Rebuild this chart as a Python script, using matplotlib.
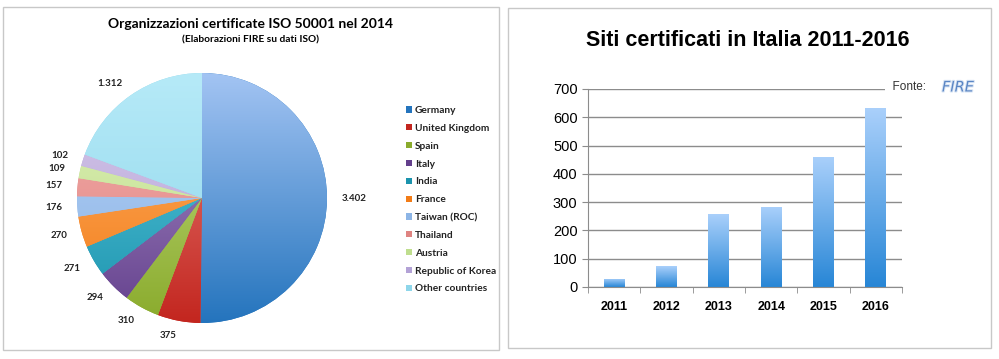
import numpy as np
import matplotlib
matplotlib.use('Agg')
import matplotlib.pyplot as plt
from matplotlib.colors import LinearSegmentedColormap
from matplotlib.patches import Rectangle
import matplotlib.patheffects as pe

# dati grafico a torta (organizzazioni ISO 50001 nel 2014)
countries = ['Germany', 'United Kingdom', 'Spain', 'Italy', 'India', 'France',
             'Taiwan (ROC)', 'Thailand', 'Austria', 'Republic of Korea', 'Other countries']
organizations = [3402, 375, 310, 294, 271, 270, 176, 157, 109, 102, 1312]
pie_top = ['#a3c4f3', '#e8827c', '#c2dc85', '#ae96cc', '#5fcbe0', '#ffb066',
           '#b3d0f5', '#f4adab', '#dcefb4', '#d6c8ea', '#b6eaf8']
pie_bottom = ['#2474bd', '#c3261f', '#8aab2c', '#633f8c', '#1b93ad', '#f27c17',
              '#8db5e6', '#df8481', '#bfde8e', '#b3a2d6', '#8ed6ea']

# dati grafico a barre (siti certificati in Italia)
years = ['2011', '2012', '2013', '2014', '2015', '2016']
sites = [30, 73, 257, 283, 460, 632]
bar_top = '#aad0fb'
bar_bottom = '#2786d6'


def gradient_fill(ax, patch, c_top, c_bottom, extent):
    # riempimento sfumato verticale ritagliato sulla forma
    cmap = LinearSegmentedColormap.from_list('g', [c_bottom, c_top])
    grad = np.linspace(0, 1, 256).reshape(-1, 1)
    im = ax.imshow(grad, cmap=cmap, origin='lower', extent=extent,
                   aspect='auto', interpolation='bilinear',
                   zorder=patch.get_zorder() + 0.1)
    im.set_clip_path(patch)


def it_number(v):
    return f'{v:,}'.replace(',', '.')


fig = plt.figure(figsize=(9.99, 3.59), dpi=100)
W, H = 999, 359

# cornici dei due pannelli
fig.patches.append(Rectangle((3 / W, 1 - 350 / H), 496 / W, 343 / H, transform=fig.transFigure,
                             fill=False, edgecolor='#c8c8c8', linewidth=1))
fig.patches.append(Rectangle((508 / W, 1 - 348 / H), 483 / W, 340 / H, transform=fig.transFigure,
                             fill=False, edgecolor='#c8c8c8', linewidth=1))

# ---- torta ----
lato = ['Lato', 'DejaVu Sans']
ax1 = fig.add_axes([77 / W, 1 - 323 / H, 250 / W, 250 / H])
wedges, texts = ax1.pie(organizations, labels=[it_number(v) for v in organizations],
                        colors=pie_bottom, startangle=90, counterclock=False,
                        labeldistance=1.12, wedgeprops=dict(linewidth=0),
                        textprops=dict(fontsize=7, fontweight='bold', family=lato, color='#222222'))
for w, ct, cb in zip(wedges, pie_top, pie_bottom):
    gradient_fill(ax1, w, ct, cb, (-1, 1, -1, 1))
ax1.set_xlim(-1, 1)
ax1.set_ylim(-1, 1)
ax1.set_aspect('equal')
ax1.axis('off')

fig.text(251 / W, 1 - 24 / H, 'Organizzazioni certificate ISO 50001 nel 2014',
         ha='center', va='center', fontsize=10, fontweight='bold', family=lato)
fig.text(251 / W, 1 - 40 / H, '(Elaborazioni FIRE su dati ISO)',
         ha='center', va='center', fontsize=7.3, fontweight='bold', family=lato)

leg = fig.legend(wedges, countries, loc='upper left', bbox_to_anchor=(402 / W, 1 - 102 / H),
                 frameon=False, fontsize=7.3, handlelength=0.55, handleheight=0.55,
                 handletextpad=0.3, labelspacing=0.87, borderaxespad=0)
for t in leg.get_texts():
    t.set_family(lato)
    t.set_fontweight('bold')
    t.set_color('#222222')

# ---- barre ----
ax2 = fig.add_axes([588 / W, 1 - 287 / H, 314 / W, 198 / H])
x = np.arange(len(years))
bars = ax2.bar(x, sites, width=0.4, color=bar_bottom, zorder=2)
for b in bars:
    gradient_fill(ax2, b, bar_top, bar_bottom,
                  (b.get_x(), b.get_x() + b.get_width(), 0, b.get_height()))
ax2.set_xlim(-0.5, len(years) - 0.5)
ax2.set_ylim(0, 700)
ax2.set_yticks(range(0, 701, 100))
ax2.yaxis.grid(True, color='#8c8c8c', linewidth=1)
ax2.set_axisbelow(True)
ax2.set_xticks(x)
ax2.set_xticklabels(years, fontsize=9, fontweight='bold', family='Liberation Sans')
ax2.set_xticks(np.arange(-0.5, len(years)), minor=True)
ax2.tick_params(axis='x', which='major', length=0, pad=10)
ax2.tick_params(axis='x', which='minor', length=4, color='#8c8c8c', direction='out')
ax2.tick_params(axis='y', length=4, color='#8c8c8c', labelsize=10.5)
for lab in ax2.get_yticklabels():
    lab.set_family('Liberation Sans')
for s in ['top', 'right']:
    ax2.spines[s].set_visible(False)
ax2.spines['left'].set_color('#8c8c8c')
ax2.spines['bottom'].set_color('#8c8c8c')

fig.text(748 / W, 1 - 40 / H, 'Siti certificati in Italia 2011-2016',
         ha='center', va='center', fontsize=15.5, fontweight='bold', family='Liberation Sans')

fig.text(886 / W, 1 - 87 / H, '  Fonte:', ha='left', va='center', fontsize=8.5,
         family='Liberation Sans', color='#333333',
         bbox=dict(facecolor='white', edgecolor='none', pad=1))
fig.text(958 / W, 1 - 87 / H, 'FIRE', ha='center', va='center', fontsize=10.5,
         fontstyle='italic', family='DejaVu Sans', color='#5b86c4',
         path_effects=[pe.withStroke(linewidth=1.5, foreground='#d8e4f4')])

fig.savefig('out.png', dpi=100)
